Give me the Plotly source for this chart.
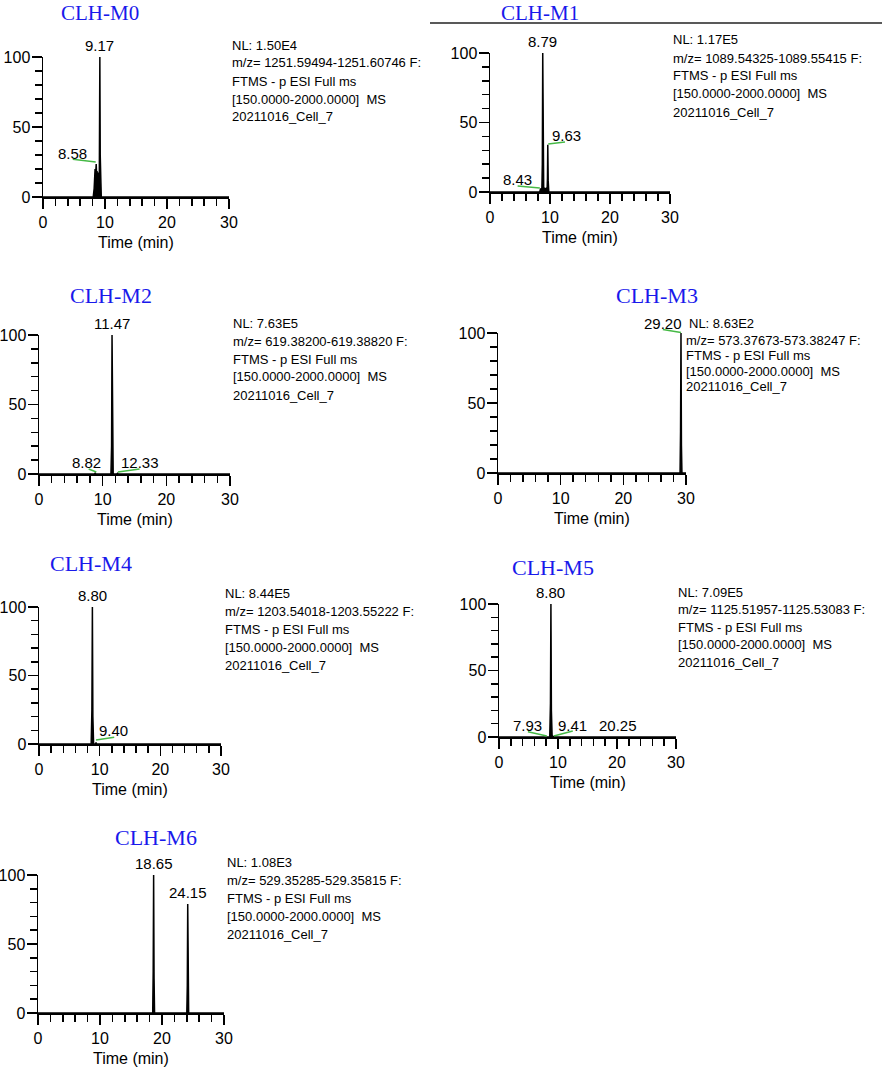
import plotly.graph_objects as go

W, H = 882, 1068

# ---------------- data ----------------
titles = ["CLH-M0", "CLH-M1", "CLH-M2", "CLH-M3", "CLH-M4", "CLH-M5", "CLH-M6"]
nl_values = ["1.50E4", "1.17E5", "7.63E5", "8.63E2", "8.44E5", "7.09E5", "1.08E3"]
mz_ranges = ["1251.59494-1251.60746", "1089.54325-1089.55415", "619.38200-619.38820",
             "573.37673-573.38247", "1203.54018-1203.55222", "1125.51957-1125.53083",
             "529.35285-529.35815"]
x_ticks = [0, 10, 20, 30]
y_ticks = [0, 50, 100]

m0_time = [0, 8.10, 8.25, 8.40, 8.50, 8.58, 8.65, 8.72, 8.80, 8.88, 8.95, 9.02, 9.08, 9.12, 9.17, 9.23, 9.30, 9.40, 30]
m0_int = [0, 0, 6, 20, 17, 23.5, 16, 18.5, 14, 17.5, 12, 16, 10, 40, 100, 30, 3, 0, 0]

m1_time = [0, 8.30, 8.43, 8.55, 8.65, 8.72, 8.79, 8.86, 8.95, 9.10, 9.25, 9.40, 9.52, 9.58, 9.63, 9.70, 9.80, 30]
m1_int = [0, 0, 2.5, 1.5, 3, 20, 100, 15, 2, 3, 1.5, 2.5, 2, 10, 34, 8, 0, 0]

m2_time = [0, 8.70, 8.82, 8.95, 11.30, 11.40, 11.47, 11.55, 11.65, 12.20, 12.33, 12.45, 30]
m2_int = [0, 0, 0.6, 0, 0, 20, 100, 15, 0, 0, 0.5, 0, 0]

m3_time = [0, 29.05, 29.13, 29.20, 29.27, 29.35, 30]
m3_int = [0, 0, 30, 100, 20, 0, 0]

m4_time = [0, 8.60, 8.72, 8.80, 8.88, 9.00, 9.30, 9.40, 9.50, 30]
m4_int = [0, 0, 25, 100, 20, 0, 0, 1.0, 0, 0]

m5_time = [0, 7.80, 7.93, 8.05, 8.60, 8.72, 8.80, 8.88, 9.00, 9.30, 9.41, 9.50, 20.10, 20.25, 20.40, 30]
m5_int = [0, 0, 0.4, 0, 0, 25, 100, 20, 1.0, 0, 0.6, 0, 0, 0.4, 0, 0]

m6_time = [0, 18.50, 18.58, 18.65, 18.72, 18.80, 24.00, 24.08, 24.15, 24.22, 24.30, 30]
m6_int = [0, 0, 30, 100, 25, 0, 0, 20, 79, 20, 0, 0]

series_time = [m0_time, m1_time, m2_time, m3_time, m4_time, m5_time, m6_time]
series_int = [m0_int, m1_int, m2_int, m3_int, m4_int, m5_int, m6_int]

# peak labels placed above the peak top: (text, rt, height)
top_labels = [
    [("9.17", 9.17, 100)],
    [("8.79", 8.79, 100)],
    [("11.47", 11.47, 100)],
    [],
    [("8.80", 8.80, 100)],
    [("8.80", 8.80, 100)],
    [("18.65", 18.65, 100), ("24.15", 24.15, 79)],
]
# offset labels: (text, label_x, label_y)
side_labels = [
    [("8.58", 4.7, 31)],
    [("8.43", 4.5, 9), ("9.63", 12.7, 41)],
    [("8.82", 7.5, 8.6), ("12.33", 15.9, 8.6)],
    [("29.20", 26.3, 107)],
    [("9.40", 12.3, 9.5)],
    [("7.93", 4.9, 8.3), ("9.41", 12.5, 8.3), ("20.25", 20.2, 8.3)],
    [],
]
# green leader lines: (x0, y0, x1, y1)
leaders = [
    [(4.8, 27, 8.5, 25)],
    [(4.6, 4.3, 8.3, 2.9), (9.7, 34.5, 12.5, 36)],
    [(7.8, 3.6, 9.0, 1.4), (12.4, 1.4, 15.8, 3.6)],
    [(26.3, 102.5, 29.2, 100.3)],
    [(9.4, 3, 12.4, 5)],
    [(4.9, 4, 8.1, 0.8), (9.3, 0.8, 12.5, 4.5)],
    [],
]

# ---------------- layout geometry (pixels) ----------------
# xl, xr, yt, yb, title_x, title_y (None = pinned to top edge)
geom = [
    (43, 229, 57, 197, 100, None),
    (490, 670, 53, 192, 540, None),
    (39, 230, 335, 474, 111, 295),
    (498, 686, 333, 473, 657, 295),
    (39, 221, 607, 744, 91, 563),
    (499, 676, 604, 737, 553, 567),
    (38, 224, 875, 1013, 156, 837),
]
# info block: NL line (x, y), following lines (x, y_first, spacing)
info_geom = [
    (230, 45, 230, 63, 18),
    (671, 40, 671, 58, 18),
    (231, 323, 231, 341, 18),
    (687, 323, 684, 340, 15.5),
    (223, 593, 223, 611, 18),
    (676, 592, 676, 609.5, 17.5),
    (225, 862, 225, 880, 18),
]


def fx(p):
    return p / W


def fy(p):
    return 1 - p / H


SANS = "Liberation Sans, Arial, Helvetica, sans-serif"
SERIF = "Liberation Serif, Times New Roman, serif"
GREEN = "rgb(70,185,70)"
BLUE = "rgb(25,25,235)"

fig = go.Figure()
annotations = []
shapes = []
layout = dict(
    template="none",
    width=W, height=H,
    margin=dict(l=0, r=0, t=0, b=0, autoexpand=False),
    paper_bgcolor="white", plot_bgcolor="white",
    showlegend=False,
)

for i in range(7):
    n = "" if i == 0 else str(i + 1)
    xa, ya = "x" + n, "y" + n
    xl, xr, yt, yb, tx, ty = geom[i]
    nx, ny, rx, ry, sp = info_geom[i]

    fig.add_trace(go.Scatter(
        x=series_time[i], y=series_int[i], mode="lines",
        line=dict(color="black", width=1.5),
        fill="tozeroy", fillcolor="black",
        xaxis=xa, yaxis=ya, hoverinfo="skip",
    ))

    layout["xaxis" + n] = dict(
        domain=[fx(xl), fx(xr)], anchor=ya, range=[0, 30], automargin=False,
        tickvals=x_ticks, ticks="outside", ticklen=10, tickwidth=1.5, tickcolor="black",
        minor=dict(dtick=2, tick0=0, ticks="outside", ticklen=7, tickwidth=1.5, tickcolor="black"),
        showline=True, linewidth=1.5, linecolor="black",
        showgrid=False, zeroline=False,
        tickfont=dict(family=SANS, size=16, color="black"),
        fixedrange=True,
    )
    layout["yaxis" + n] = dict(
        domain=[fy(yb), fy(yt)], anchor=xa, range=[0, 100], automargin=False,
        tickvals=y_ticks, ticks="outside", ticklen=10, tickwidth=1.5, tickcolor="black",
        minor=dict(dtick=10, tick0=0, ticks="outside", ticklen=7, tickwidth=1.5, tickcolor="black"),
        showline=True, linewidth=1.5, linecolor="black",
        showgrid=False, zeroline=False,
        ticklabelstandoff=-2,
        tickfont=dict(family=SANS, size=16, color="black"),
        fixedrange=True,
    )

    # panel title
    if ty is None:
        annotations.append(dict(
            text=titles[i], xref="paper", yref="paper", x=fx(tx), y=1.0,
            xanchor="center", yanchor="top", borderpad=0, showarrow=False,
            font=dict(family=SERIF, size=21, color=BLUE),
        ))
    else:
        annotations.append(dict(
            text=titles[i], xref="paper", yref="paper", x=fx(tx), y=fy(ty),
            xanchor="center", yanchor="middle", showarrow=False,
            font=dict(family=SERIF, size=22, color=BLUE),
        ))
    # axis title
    annotations.append(dict(
        text="Time (min)", xref=xa + " domain", yref="paper", x=0.5, y=fy(yb + 45),
        xanchor="center", yanchor="middle", showarrow=False,
        font=dict(family=SANS, size=16, color="black"),
    ))
    # info block
    annotations.append(dict(
        text="NL: " + nl_values[i], xref="paper", yref="paper", x=fx(nx), y=fy(ny),
        xanchor="left", yanchor="middle", showarrow=False,
        font=dict(family=SANS, size=13, color="black"),
    ))
    info_lines = ["m/z= " + mz_ranges[i] + " F:",
                  "FTMS - p ESI Full ms",
                  "[150.0000-2000.0000]\u00a0 MS",
                  "20211016_Cell_7"]
    for k, line in enumerate(info_lines):
        annotations.append(dict(
            text=line, xref="paper", yref="paper", x=fx(rx), y=fy(ry + k * sp),
            xanchor="left", yanchor="middle", showarrow=False,
            font=dict(family=SANS, size=13, color="black"),
        ))
    # peak labels
    for txt, rt, h in top_labels[i]:
        annotations.append(dict(
            text=txt, xref=xa, yref=ya, x=rt, y=h,
            xanchor="center", yanchor="bottom", yshift=1, showarrow=False,
            font=dict(family=SANS, size=15, color="black"),
        ))
    for txt, lx, ly in side_labels[i]:
        annotations.append(dict(
            text=txt, xref=xa, yref=ya + " domain", x=lx, y=ly / 100.0,
            xanchor="center", yanchor="middle", showarrow=False,
            font=dict(family=SANS, size=15, color="black"),
        ))
    for x0, y0, x1, y1 in leaders[i]:
        shapes.append(dict(
            type="line", xref=xa, yref=ya + " domain",
            x0=x0, y0=y0 / 100.0, x1=x1, y1=y1 / 100.0,
            line=dict(color=GREEN, width=1.5),
        ))

# separator line at top right
shapes.append(dict(type="line", xref="paper", yref="paper",
                   x0=fx(430), x1=1, y0=fy(23), y1=fy(23),
                   line=dict(color="#222", width=1.5)))

layout["annotations"] = annotations
layout["shapes"] = shapes
fig.update_layout(**layout)
fig.write_html(
    "out.html",
    config={"displayModeBar": False, "staticPlot": True},
    post_script="document.body.style.margin='0';document.body.style.padding='0';"
                "document.documentElement.style.overflow='hidden';",
)
